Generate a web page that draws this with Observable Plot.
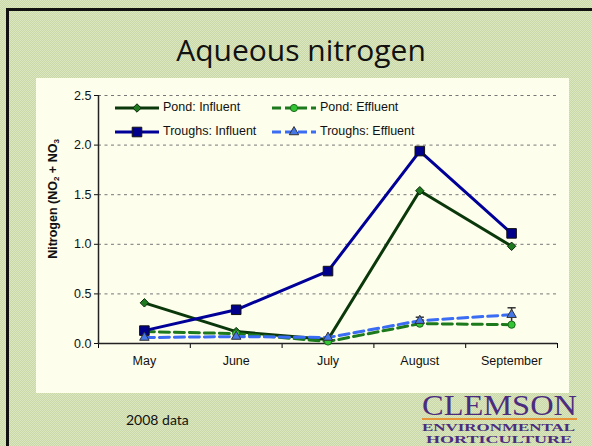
<!DOCTYPE html>
<html>
<head>
<meta charset="utf-8">
<script src="https://cdn.jsdelivr.net/npm/d3@7"></script>
<script src="https://cdn.jsdelivr.net/npm/@observablehq/plot@0.6"></script>
<style>
  html, body { margin: 0; padding: 0; }
  body {
    width: 592px; height: 446px; position: relative; overflow: hidden;
    background: repeating-conic-gradient(#c9d8a6 0 25%, #dbe7c0 0 50%) 0 0 / 2px 2px;
    font-family: "Liberation Sans", Arial, sans-serif;
  }
  #frame { position: absolute; left: 6px; top: 8px; width: 700px; height: 600px;
    border-left: 3px solid #111; border-top: 3px solid #111; }
  #title { position: absolute; left: 0; width: 602px; top: 32px; text-align: center;
    font-family: "Open Sans", sans-serif; font-size: 30px; color: #111; line-height: 36px; }
  #panel { position: absolute; left: 36px; top: 78px; width: 533px; height: 315px; background: #fdfeec; }
  #chart { position: absolute; left: 36px; top: 78px; }
  #ylabel { position: absolute; left: 53px; top: 199px; transform: translate(-50%, -50%) rotate(-90deg);
    white-space: nowrap; font-weight: bold; font-size: 12.5px; color: #111; }
  #ylabel sub { font-size: 8px; vertical-align: -2px; }
  .leg { position: absolute; font-size: 12.5px; color: #111; white-space: nowrap; }
  #caption { position: absolute; left: 126px; top: 411px; font-family: "Lato", sans-serif; font-size: 14px; color: #111; }
  #logo { position: absolute; left: 420px; top: 384px; }
</style>
</head>
<body>
<div id="frame"></div>
<div id="title">Aqueous nitrogen</div>
<div id="panel"></div>
<div id="chart"></div>
<div id="ylabel">Nitrogen (NO<sub>2</sub> + NO<sub>3</sub></div>
<div id="legend"></div>
<div id="caption">2008 data</div>
<svg id="logo" width="165" height="62">
  <text x="2" y="31" font-family="Liberation Serif, serif" font-size="29" fill="#4b2c7f" textLength="155" lengthAdjust="spacingAndGlyphs">CLEMSON</text>
  <line x1="2" x2="157" y1="35" y2="35" stroke="#ef7d11" stroke-width="1.5"/>
  <text x="2" y="47" font-family="Liberation Serif, serif" font-weight="bold" font-size="11" fill="#4b2c7f" textLength="153" lengthAdjust="spacingAndGlyphs">ENVIRONMENTAL</text>
  <text x="6" y="59" font-family="Liberation Serif, serif" font-weight="bold" font-size="11" fill="#4b2c7f" textLength="146" lengthAdjust="spacingAndGlyphs">HORTICULTURE</text>
</svg>
<script>
// ---- data ----
const months = ["May", "June", "July", "August", "September"];
const pondInfluent    = [0.41, 0.12, 0.04, 1.54, 0.98];
const pondEffluent    = [0.12, 0.10, 0.02, 0.20, 0.19];
const troughsInfluent = [0.13, 0.34, 0.73, 1.94, 1.11];
const troughsEffluent = [0.06, 0.07, 0.06, 0.23, 0.29];
const troughsEffluentErr = [0, 0, 0, 0.035, 0.07];
const yTicks = [0, 0.5, 1.0, 1.5, 2.0, 2.5];

const seriesNames = ["Pond: Influent", "Pond: Effluent", "Troughs: Influent", "Troughs: Effluent"];
const styles = {
  "Pond: Influent":    {line: "#0a380a", dash: null,   symbol: "diamond2", r: 3.8, fill: "#1f7a1f", stroke: "#0a2a0a"},
  "Pond: Effluent":    {line: "#1c7a1c", dash: "10,5", symbol: "circle",   r: 3.6, fill: "#33c433", stroke: "#1b6a1b"},
  "Troughs: Influent": {line: "#000099", dash: null,   symbol: "square",   r: 5.4, fill: "#00008b", stroke: "#111"},
  "Troughs: Effluent": {line: "#3a6cf4", dash: "10,5", symbol: "triangle", r: 3.5, fill: "#4577e6", stroke: "#333"}
};
const valuesBySeries = {
  "Pond: Influent": pondInfluent,
  "Pond: Effluent": pondEffluent,
  "Troughs: Influent": troughsInfluent,
  "Troughs: Effluent": troughsEffluent
};
const table = seriesNames.map(name => months.map((m, i) => ({series: name, i, month: m, value: valuesBySeries[name][i]})));
const errData = months.map((m, i) => ({i, value: troughsEffluent[i], err: troughsEffluentErr[i]})).filter(d => d.err > 0);

const capSymbol = {draw(ctx, size) { const w = Math.sqrt(size); ctx.moveTo(-w, 0); ctx.lineTo(w, 0); }};

const marks = [
  Plot.gridY(yTicks.filter(t => t > 0), {stroke: "#777", strokeOpacity: 1, strokeDasharray: "3,3.5", strokeWidth: 1}),
  Plot.axisY({ticks: yTicks, tickSize: 4, tickPadding: 3, tickFormat: d => d.toFixed(1), fontSize: 12.5, label: null, color: "#111"}),
  Plot.axisX({ticks: d3.range(-0.5, months.length, 1), tickSize: 5, tickFormat: () => "", label: null}),
  Plot.axisX({ticks: d3.range(months.length), tickSize: 0, tickPadding: 13, tickFormat: i => months[i], fontSize: 12.5, label: null, color: "#111"}),
  Plot.ruleX([-0.5], {y1: 0, y2: 2.5, stroke: "#222", strokeWidth: 1.5}),
  Plot.ruleY([0], {stroke: "#222", strokeWidth: 1.5}),
  // error bars
  Plot.ruleX(errData, {x: "i", y1: d => d.value - d.err, y2: d => d.value + d.err, stroke: "#333", strokeWidth: 1.5}),
  Plot.dot(errData, {x: "i", y: d => d.value + d.err, symbol: capSymbol, r: 2.3, stroke: "#333", strokeWidth: 1.5})
];
for (const data of table) {
  const s = styles[data[0].series];
  marks.push(Plot.line(data, {x: "i", y: "value", stroke: s.line, strokeWidth: 3, strokeDasharray: s.dash}));
  marks.push(Plot.dot(data, {x: "i", y: "value", symbol: s.symbol, r: s.r, fill: s.fill, stroke: s.stroke, strokeWidth: 1}));
}

const chart = Plot.plot({
  width: 533, height: 315,
  marginLeft: 62, marginRight: 12, marginTop: 17, marginBottom: 50,
  style: {background: "transparent", fontFamily: "Liberation Sans, Arial, sans-serif", fontSize: "12.5px"},
  x: {domain: [-0.5, months.length - 0.5], axis: null},
  y: {domain: [0, 2.5], axis: null},
  marks
});
document.getElementById("chart").appendChild(chart);

// ---- legend ----
const legendPos = {
  "Pond: Influent":    {x: 115, y: 108},
  "Troughs: Influent": {x: 115, y: 132},
  "Pond: Effluent":    {x: 272, y: 108},
  "Troughs: Effluent": {x: 272, y: 132}
};
const legend = d3.select("#legend");
for (const name of seriesNames) {
  const s = styles[name], p = legendPos[name];
  const svg = legend.append("svg").attr("width", 46).attr("height", 16)
    .style("position", "absolute").style("left", p.x + "px").style("top", (p.y - 8) + "px");
  svg.append("line").attr("x1", 0).attr("x2", 44).attr("y1", 8).attr("y2", 8)
    .attr("stroke", s.line).attr("stroke-width", 3).attr("stroke-dasharray", s.dash ? "9,4" : null);
  const symType = {diamond2: d3.symbolDiamond2, circle: d3.symbolCircle, square: d3.symbolSquare, triangle: d3.symbolTriangle}[s.symbol];
  svg.append("path").attr("d", d3.symbol(symType, Math.PI * s.r * s.r)())
    .attr("transform", "translate(22,8)").attr("fill", s.fill).attr("stroke", s.stroke);
  legend.append("div").attr("class", "leg").text(name)
    .style("left", (p.x + 48) + "px").style("top", (p.y - 8) + "px");
}
</script>
</body>
</html>
